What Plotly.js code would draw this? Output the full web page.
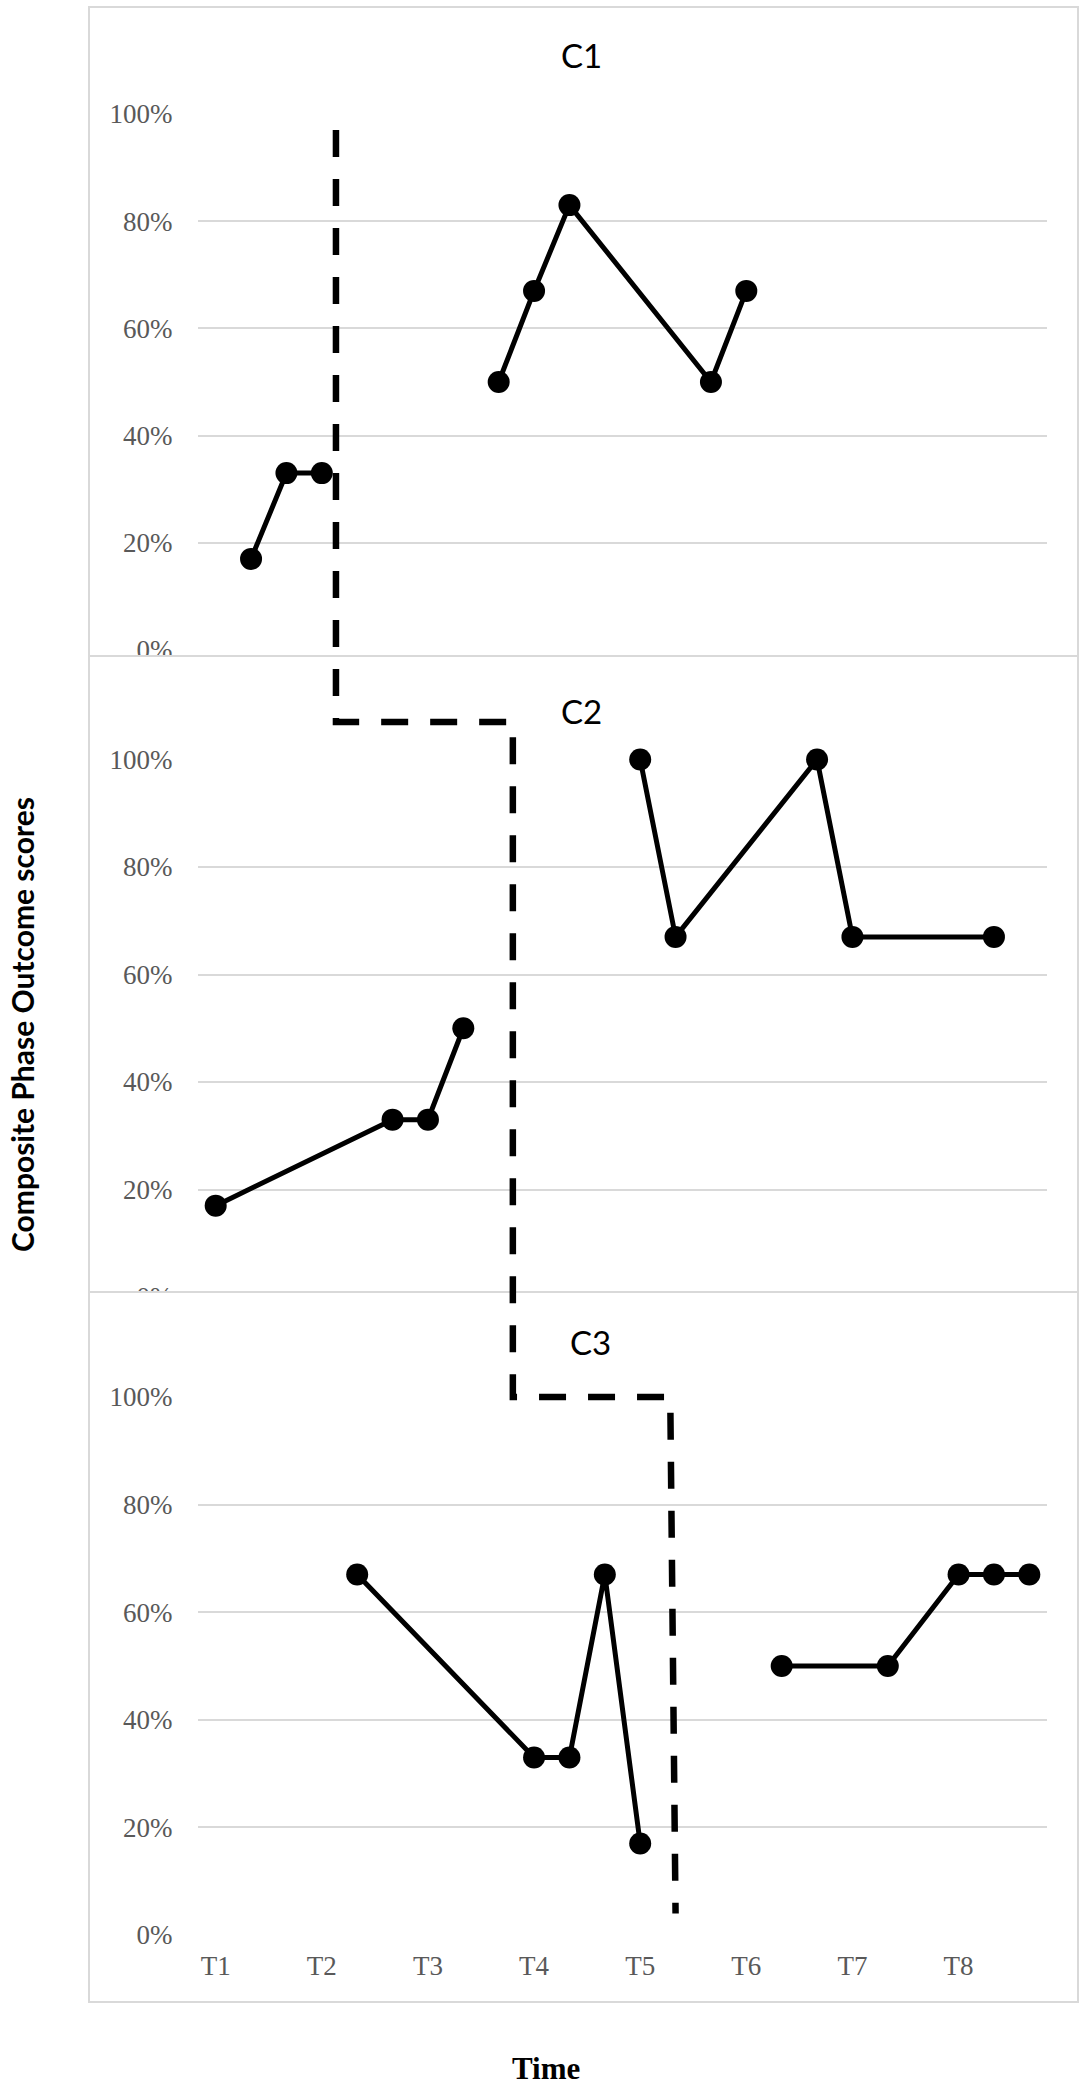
<!DOCTYPE html>
<html>
<head>
<meta charset="utf-8">
<script src="https://cdn.plot.ly/plotly-3.0.1.min.js"></script>
<style>
  html, body { margin: 0; padding: 0; background: #ffffff; }
  #chart { width: 1089px; height: 2100px; }
</style>
</head>
<body>
<div id="chart"></div>
<script>
// ---------- data ----------
const tickSessions = [1, 4, 7, 10, 13, 16, 19, 22];
const tickLabels = ["T1", "T2", "T3", "T4", "T5", "T6", "T7", "T8"];
const yTicks = [0, 20, 40, 60, 80, 100];

const panelNames = ["C1", "C2", "C3"];

const c1BaseX = [2, 3, 4];
const c1BaseY = [17, 33, 33];
const c1TreatX = [9, 10, 11, 15, 16];
const c1TreatY = [50, 67, 83, 50, 67];

const c2BaseX = [1, 6, 7, 8];
const c2BaseY = [17, 33, 33, 50];
const c2TreatX = [13, 14, 18, 19, 23];
const c2TreatY = [100, 67, 100, 67, 67];

const c3BaseX = [5, 10, 11, 12, 13];
const c3BaseY = [67, 33, 33, 67, 17];
const c3TreatX = [17, 20, 22, 23, 24];
const c3TreatY = [50, 50, 67, 67, 67];

// phase-change staircase (session position, panel, percent level)
const phaseX = [4.4, 4.4, 9.4, 9.4, 13.85, 14.0];
const phasePanel = [1, 2, 2, 3, 3, 3];
const phasePct = [97, 107, 107, 100, 100, 4];

// ---------- layout geometry ----------
const W = 1089, H = 2100;
const px = v => v / W;
const py = v => 1 - v / H;
const xDomain = [px(198), px(1047)];
const yDomains = [
  [py(650), py(114)],
  [py(1297), py(759.5)],
  [py(1935), py(1397)]
];
const toPaperY = (panel, pct) => {
  const d = yDomains[panel - 1];
  return d[0] + (pct / 100) * (d[1] - d[0]);
};

const lineStyle = { color: "#000000", width: 5 };
const markerStyle = { color: "#000000", size: 22, symbol: "circle" };

function tr(x, y, ax) {
  return {
    x: x, y: y, xaxis: ax[0], yaxis: ax[1],
    type: "scatter", mode: "lines+markers",
    line: lineStyle, marker: markerStyle,
    showlegend: false, hoverinfo: "skip", cliponaxis: false
  };
}

const data = [
  tr(c1BaseX, c1BaseY, ["x", "y"]),
  tr(c1TreatX, c1TreatY, ["x", "y"]),
  tr(c2BaseX, c2BaseY, ["x2", "y2"]),
  tr(c2TreatX, c2TreatY, ["x2", "y2"]),
  tr(c3BaseX, c3BaseY, ["x3", "y3"]),
  tr(c3TreatX, c3TreatY, ["x3", "y3"])
];

const tickFont = { family: "Liberation Serif, Times New Roman, serif", size: 27, color: "#595959" };

function xAxis(anchor, showLabels) {
  return {
    domain: xDomain, anchor: anchor, range: [0.5, 24.5],
    showgrid: false, zeroline: false, showline: false,
    tickmode: "array", tickvals: tickSessions, ticktext: tickLabels,
    showticklabels: showLabels, ticks: showLabels ? "outside" : "",
    ticklen: 7, tickcolor: "rgba(0,0,0,0)",
    tickfont: tickFont, fixedrange: true
  };
}
function yAxis(anchor, dom) {
  return {
    domain: dom, anchor: anchor, range: [0, 100],
    tickmode: "array", tickvals: yTicks, ticktext: yTicks.map(v => v + "%"),
    showgrid: true, gridcolor: "#d9d9d9", gridwidth: 2,
    zeroline: false, showline: false,
    ticks: "outside", ticklen: 19, tickcolor: "rgba(0,0,0,0)",
    tickfont: tickFont, fixedrange: true
  };
}

// phase staircase path
let pathStr = "";
for (let i = 0; i < phaseX.length; i++) {
  pathStr += (i === 0 ? "M" : " L") + phaseX[i] + "," + toPaperY(phasePanel[i], phasePct[i]);
}

const frameColor = "#d9d9d9";
const shapes = [
  // white covers (later panels stacked over earlier ones)
  { type: "rect", xref: "paper", yref: "paper", x0: px(89), x1: px(196), y0: py(657), y1: py(672),
    fillcolor: "#ffffff", line: { width: 0 }, layer: "above" },
  { type: "rect", xref: "paper", yref: "paper", x0: px(89), x1: px(1077), y0: py(1293), y1: py(1312),
    fillcolor: "#ffffff", line: { width: 0 }, layer: "above" },
  // panel frames
  { type: "rect", xref: "paper", yref: "paper", x0: px(89), x1: px(1078), y0: py(656), y1: py(7),
    line: { color: frameColor, width: 2 }, layer: "above" },
  { type: "rect", xref: "paper", yref: "paper", x0: px(89), x1: px(1078), y0: py(1292), y1: py(656),
    line: { color: frameColor, width: 2 }, layer: "above" },
  { type: "rect", xref: "paper", yref: "paper", x0: px(89), x1: px(1078), y0: py(2002), y1: py(1292),
    line: { color: frameColor, width: 2 }, layer: "above" },
  // phase change line
  { type: "path", xref: "x", yref: "paper", path: pathStr,
    line: { color: "#000000", width: 6.5, dash: "27px,22px" }, layer: "above" }
];

const titleFont = { family: "Lato, Open Sans, sans-serif", size: 33, color: "#000000" };
const annotations = [
  { text: panelNames[0], x: px(581), y: py(55), xref: "paper", yref: "paper", showarrow: false, font: titleFont, xanchor: "center", yanchor: "middle" },
  { text: panelNames[1], x: px(581), y: py(711), xref: "paper", yref: "paper", showarrow: false, font: titleFont, xanchor: "center", yanchor: "middle" },
  { text: panelNames[2], x: px(590), y: py(1342), xref: "paper", yref: "paper", showarrow: false, font: titleFont, xanchor: "center", yanchor: "middle" },
  { text: "<b>Composite Phase Outcome scores</b>", x: px(22), y: py(1025), xref: "paper", yref: "paper",
    showarrow: false, textangle: -90, xanchor: "center", yanchor: "middle",
    font: { family: "Lato, Open Sans, sans-serif", size: 30, color: "#000000" } },
  { text: "<b>Time</b>", x: px(546), y: py(2068), xref: "paper", yref: "paper", showarrow: false,
    xanchor: "center", yanchor: "middle",
    font: { family: "Liberation Serif, Times New Roman, serif", size: 31, color: "#000000" } }
];

const layout = {
  width: W, height: H,
  margin: { l: 0, r: 0, t: 0, b: 0, pad: 0 },
  paper_bgcolor: "#ffffff", plot_bgcolor: "rgba(0,0,0,0)",
  showlegend: false,
  xaxis: xAxis("y", false),
  yaxis: yAxis("x", yDomains[0]),
  xaxis2: xAxis("y2", false),
  yaxis2: yAxis("x2", yDomains[1]),
  xaxis3: xAxis("y3", true),
  yaxis3: yAxis("x3", yDomains[2]),
  shapes: shapes,
  annotations: annotations
};

Plotly.newPlot("chart", data, layout, { staticPlot: true, displayModeBar: false });
</script>
</body>
</html>
